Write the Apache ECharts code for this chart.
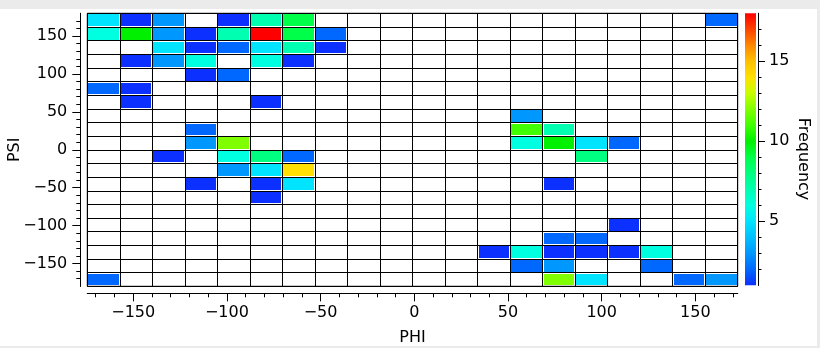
<!DOCTYPE html>
<html><head><meta charset="utf-8">
<script src="https://cdn.jsdelivr.net/npm/echarts@6/dist/echarts.min.js"></script>
<style>
html,body{margin:0;padding:0;background:#ebebeb;overflow:hidden;}
#panel{position:absolute;left:0;top:9px;width:817px;height:337px;background:#fff;}
#chart{position:absolute;left:0;top:0;width:820px;height:348px;}
</style></head><body>
<div id="panel"></div>
<div id="chart"></div>
<script>
// Histogram bins
const PHI_MIN = -174.5, PHI_MAX = 172.6, PHI_BINS = 20;
const PSI_MIN = -180, PSI_MAX = 180, PSI_BINS = 20;

// Non-empty cells: row index counted from the top (PSI high -> low), column index (PHI low -> high), count
const cellRow = [0,0,0,0,0,0,0, 1,1,1,1,1,1,1,1, 2,2,2,2,2,2, 3,3,3,3,3, 4,4, 5,5, 6,6, 7, 8,8,8, 9,9,9,9,9,9, 10,10,10,10,10, 11,11,11, 12,12,12,12, 13, 15, 16,16, 17,17,17,17,17,17, 18,18,18, 19,19,19,19,19];
const cellCol = [0,1,2,4,5,6,19, 0,1,2,3,4,5,6,7, 2,3,4,5,6,7, 1,2,3,5,6, 3,4, 0,1, 1,5, 13, 3,13,14, 3,4,13,14,15,16, 2,4,5,6,15, 4,5,6, 3,5,6,14, 5, 16, 14,15, 12,13,14,15,16,17, 13,14,17, 0,14,15,18,19];
const cellCount = [5,1,3,1,7,9,2, 6,10,3,1,7,18,9,2, 5,1,2,5,7,1, 1,3,6,6,1, 1,2, 2,1, 1,1, 3, 2,11,7, 3,12,6,10,5,2, 1,6,8,2,8, 3,5,14, 1,1,5,1, 1, 1, 2,2, 1,6,1,1,1,6, 2,3,2, 2,12,5,2,3];

// Tick labels
const phiMajorTicks = [-150,-100,-50,0,50,100,150];
const phiMinorTicks = [-170,-160,-150,-140,-130,-120,-110,-100,-90,-80,-70,-60,-50,-40,-30,-20,-10,0,10,20,30,40,50,60,70,80,90,100,110,120,130,140,150,160,170];
const psiMajorTicks = [-150,-100,-50,0,50,100,150];
const psiMinorTicks = [-170,-160,-150,-140,-130,-120,-110,-100,-90,-80,-70,-60,-50,-40,-30,-20,-10,0,10,20,30,40,50,60,70,80,90,100,110,120,130,140,150,160,170];
const freqMin = 1, freqMax = 18;
const freqMajorTicks = [5,10,15];
const freqMinorTicks = [2,3,4,5,6,7,8,9,10,11,12,13,14,15,16,17];

const colorStops = ['#0c30ff','#0068ff','#0098ff','#00c0ff','#00e4ff','#00ffe0','#00ffb0','#00ff80','#00ff48','#00f000','#40ff00','#80ff00','#c8ff00','#ffe000','#ffc000','#ff8800','#ff4400','#ff0000'];

const phiStep = (PHI_MAX - PHI_MIN) / PHI_BINS;
const psiStep = (PSI_MAX - PSI_MIN) / PSI_BINS;
const cells = cellCount.map((c, i) => {
  const col = cellCol[i], psiBin = PSI_BINS - 1 - cellRow[i];
  return [PHI_MIN + col * phiStep, PHI_MIN + (col + 1) * phiStep,
          PSI_MIN + psiBin * psiStep, PSI_MIN + (psiBin + 1) * psiStep, c];
});

const FONT = 'DejaVu Sans';
const fmt = v => (v < 0 ? '\u2212' + Math.abs(v) : String(v));
const black = '#000';
const line = {show: true, onZero: false, lineStyle: {color: black, width: 1}};
const noLine = {show: false, onZero: false};
const lbl = {fontSize: 16, fontFamily: FONT, color: black};

const barGradient = new echarts.graphic.LinearGradient(0, 1, 0, 0,
  colorStops.map((c, i) => ({offset: i / (colorStops.length - 1), color: c})));

const chart = echarts.init(document.getElementById('chart'), null, {renderer: 'canvas'});
chart.setOption({
  animation: false,
  backgroundColor: 'transparent',
  textStyle: {fontFamily: FONT, color: black},
  grid: [
    {left: 87.3, top: 13.3, width: 650.4, height: 273, containLabel: false, outerBoundsMode: 'none',
     show: true, borderColor: black, borderWidth: 1, backgroundColor: 'transparent'},
    {left: 745, top: 13.3, width: 11, height: 272, containLabel: false, outerBoundsMode: 'none'}
  ],
  xAxis: [
    {gridIndex: 0, type: 'value', min: PHI_MIN, max: PHI_MAX, interval: phiStep,
     axisLine: noLine, axisTick: {show: false}, axisLabel: {show: false},
     splitLine: {show: true, lineStyle: {color: black, width: 1}}},
    {gridIndex: 0, type: 'value', min: PHI_MIN, max: PHI_MAX, position: 'bottom', offset: 7,
     axisLine: line,
     axisTick: {show: true, length: 4, customValues: phiMinorTicks, lineStyle: {color: black}},
     axisLabel: {show: false}, splitLine: {show: false}},
    {gridIndex: 0, type: 'value', min: PHI_MIN, max: PHI_MAX, position: 'bottom', offset: 7,
     axisLine: line,
     axisTick: {show: true, length: 8, customValues: phiMajorTicks, lineStyle: {color: black}},
     axisLabel: Object.assign({show: true, customValues: phiMajorTicks, formatter: fmt, margin: 12}, lbl),
     splitLine: {show: false},
     name: 'PHI', nameLocation: 'middle', nameGap: 37, nameMoveOverlap: false, nameTextStyle: lbl},
    {gridIndex: 1, type: 'value', min: 0, max: 1, show: false}
  ],
  yAxis: [
    {gridIndex: 0, type: 'value', min: PSI_MIN, max: PSI_MAX, interval: psiStep,
     axisLine: noLine, axisTick: {show: false}, axisLabel: {show: false},
     splitLine: {show: true, lineStyle: {color: black, width: 1}}},
    {gridIndex: 0, type: 'value', min: PSI_MIN, max: PSI_MAX, position: 'left', offset: 7,
     axisLine: line,
     axisTick: {show: true, length: 4, customValues: psiMinorTicks, lineStyle: {color: black}},
     axisLabel: {show: false}, splitLine: {show: false}},
    {gridIndex: 0, type: 'value', min: PSI_MIN, max: PSI_MAX, position: 'left', offset: 7,
     axisLine: line,
     axisTick: {show: true, length: 8, customValues: psiMajorTicks, lineStyle: {color: black}},
     axisLabel: Object.assign({show: true, customValues: psiMajorTicks, formatter: fmt, margin: 13}, lbl),
     splitLine: {show: false},
     name: 'PSI', nameLocation: 'middle', nameGap: 57, nameMoveOverlap: false, nameTextStyle: lbl},
    {gridIndex: 1, type: 'value', min: freqMin, max: freqMax, position: 'right', offset: 2,
     axisLine: line,
     axisTick: {show: true, length: 3.5, customValues: freqMinorTicks, lineStyle: {color: black}},
     axisLabel: {show: false}, splitLine: {show: false}},
    {gridIndex: 1, type: 'value', min: freqMin, max: freqMax, position: 'right', offset: 2,
     axisLine: line,
     axisTick: {show: true, length: 7, customValues: freqMajorTicks, lineStyle: {color: black}},
     axisLabel: Object.assign({show: true, customValues: freqMajorTicks, margin: 11}, lbl),
     splitLine: {show: false}}
  ],
  visualMap: {
    type: 'continuous', show: false, min: freqMin, max: freqMax, dimension: 4, seriesIndex: 0,
    inRange: {color: colorStops}
  },
  graphic: [{
    type: 'text', x: 803, y: 159, rotation: -Math.PI / 2,
    style: {text: 'Frequency', font: '16px "DejaVu Sans"', fill: black, align: 'center', verticalAlign: 'middle'}
  }],
  series: [{
    type: 'custom', xAxisIndex: 0, yAxisIndex: 0, data: cells,
    renderItem: function (params, api) {
      const a = api.coord([api.value(0), api.value(3)]);
      const b = api.coord([api.value(1), api.value(2)]);
      const x0 = Math.round(a[0]) + 1, y0 = Math.round(a[1]) + 1;
      const x1 = Math.round(b[0]) - 1, y1 = Math.round(b[1]) - 1;
      return {type: 'rect', shape: {x: x0, y: y0, width: x1 - x0, height: y1 - y0},
              style: {fill: api.visual('color')}};
    }
  }, {
    type: 'custom', xAxisIndex: 3, yAxisIndex: 3, data: [[0, 1, freqMin, freqMax]],
    renderItem: function (params, api) {
      const a = api.coord([api.value(0), api.value(3)]);
      const b = api.coord([api.value(1), api.value(2)]);
      return {type: 'rect', shape: {x: a[0], y: a[1], width: b[0] - a[0], height: b[1] - a[1]},
              style: {fill: barGradient}};
    }
  }]
});
</script>
</body></html>
